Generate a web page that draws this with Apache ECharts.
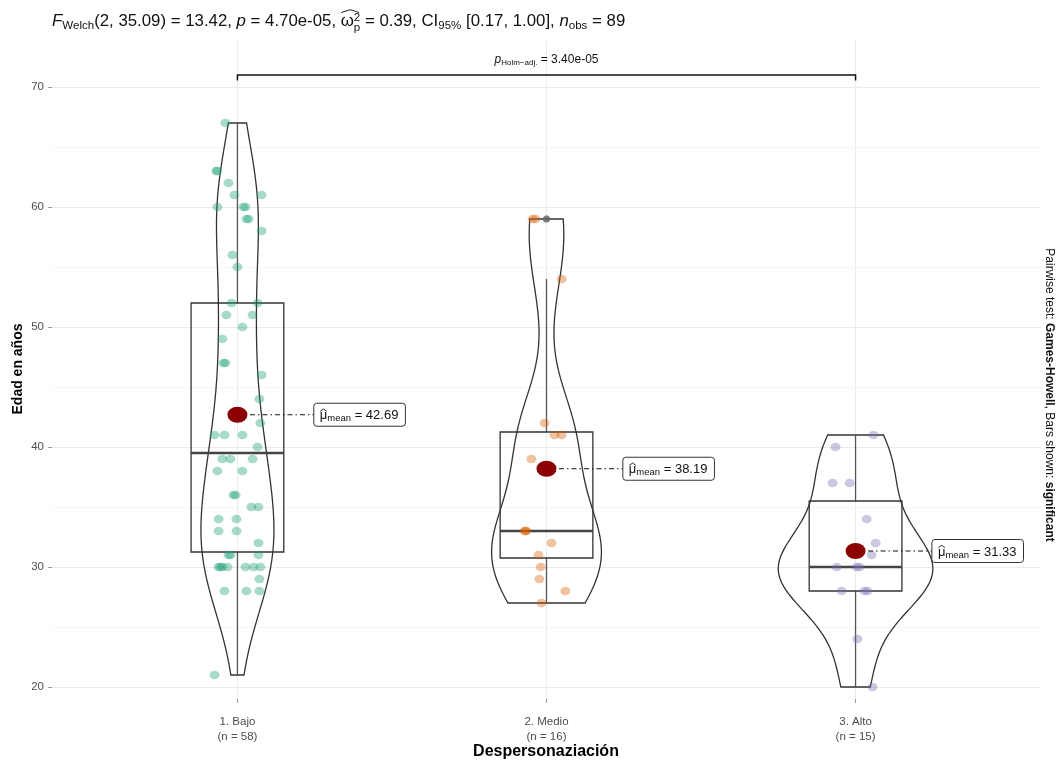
<!DOCTYPE html>
<html>
<head>
<meta charset="utf-8">
<script src="https://cdn.jsdelivr.net/npm/echarts@6.0.0/dist/echarts.min.js"></script>
</head>
<body style="margin: 0">
<div id="container" style="width: 1058px; height: 761px"></div>
<script>
// ---- datos ----
var categories = ['1. Bajo', '2. Medio', '3. Alto'];
var groupColors = ['#1B9E77', '#D95F02', '#7570B3'];

var edadBajo = [67, 63, 63, 62, 61, 61, 60, 60, 60, 59, 59, 58, 56, 55, 52, 52, 51, 51, 50, 49,
    47, 47, 46, 44, 42, 41, 41, 41, 40, 39, 39, 39, 38, 38, 36, 36, 35, 35, 34, 34,
    33, 33, 32, 31, 31, 31, 30, 30, 30, 30, 30, 30, 30, 29, 28, 28, 28, 21];
var jitterBajo = [-0.039, -0.068, -0.065, -0.029, -0.010, 0.078, -0.065, 0.019, 0.026, 0.029,
    0.036, 0.078, -0.016, 0.000, -0.019, 0.065, -0.036, 0.049, 0.016, -0.049,
    -0.045, -0.039, 0.078, 0.071, 0.074, -0.074, -0.042, 0.016, 0.065, -0.049,
    -0.023, 0.049, -0.065, 0.016, -0.013, -0.006, 0.045, 0.068, -0.061, -0.003,
    -0.061, -0.003, 0.068, -0.029, -0.023, 0.068, -0.061, -0.055, -0.049, -0.032,
    0.026, 0.052, 0.074, 0.071, -0.042, 0.029, 0.071, -0.074];

var edadMedio = [59, 59, 54, 42, 41, 41, 39, 33, 33, 33, 32, 31, 30, 29, 28, 27];
var jitterMedio = [-0.045, -0.036, 0.049, -0.006, 0.026, 0.049, -0.049, -0.071, -0.068, -0.065,
    0.016, -0.026, -0.019, -0.023, 0.061, -0.016];

var edadAlto = [41, 40, 37, 37, 34, 32, 31, 30, 30, 30, 28, 28, 28, 24, 20];
var jitterAlto = [0.058, -0.065, -0.074, -0.019, 0.036, 0.065, 0.052, -0.061, 0.003, 0.013,
    -0.045, 0.029, 0.039, 0.006, 0.055];

var yMajor = [20, 30, 40, 50, 60, 70];
var yMinor = [25, 35, 45, 55, 65];
var pHolm = '3.40e-05';
var bracketY = 71;

var groups = [edadBajo, edadMedio, edadAlto];
var jitters = [jitterBajo, jitterMedio, jitterAlto];

var FONT = '"Liberation Sans", Arial, sans-serif';
var measureCtx = document.createElement('canvas').getContext('2d');

// ---- estadisticos (como ggplot) ----
function q7(s, p) {
    var h = (s.length - 1) * p, lo = Math.floor(h);
    var hi = Math.min(lo + 1, s.length - 1);
    return s[lo] + (h - lo) * (s[hi] - s[lo]);
}
function boxStats(vals) {
    var s = vals.slice().sort(function (a, b) { return a - b; });
    var q1 = q7(s, 0.25), med = q7(s, 0.5), q3 = q7(s, 0.75), iqr = q3 - q1;
    var inside = s.filter(function (v) { return v >= q1 - 1.5 * iqr && v <= q3 + 1.5 * iqr; });
    var lo = inside[0], hi = inside[inside.length - 1];
    var mean = s.reduce(function (a, b) { return a + b; }, 0) / s.length;
    return {q1: q1, med: med, q3: q3, lo: lo, hi: hi, mean: mean, sorted: s,
        outliers: s.filter(function (v) { return v < lo || v > hi; })};
}
function kde(st) {
    var s = st.sorted, n = s.length;
    var m = st.mean, sd = Math.sqrt(s.reduce(function (a, v) { return a + (v - m) * (v - m); }, 0) / (n - 1));
    var bw = 0.9 * Math.min(sd, (st.q3 - st.q1) / 1.34) * Math.pow(n, -0.2);
    var out = [], mn = s[0], mx = s[n - 1];
    for (var i = 0; i < 512; i++) {
        var y = mn + i * (mx - mn) / 511, d = 0;
        for (var j = 0; j < n; j++) {
            var z = (y - s[j]) / bw;
            d += Math.exp(-0.5 * z * z);
        }
        out.push([y, d / (n * bw * Math.sqrt(2 * Math.PI))]);
    }
    return out;
}
var stats = groups.map(boxStats);
var dens = stats.map(kde);
var maxD = 0;
dens.forEach(function (d) { d.forEach(function (p) { maxD = Math.max(maxD, p[1]); }); });

// ---- texto con sub/superindices (y sombrero sobre una letra) ----
function textRuns(runs, base) {
    var x = 0, kids = [];
    runs.forEach(function (r) {
        var size = r.size || base.size;
        var weight = r.bold ? 'bold' : 'normal', style = r.italic ? 'italic' : 'normal';
        measureCtx.font = style + ' ' + weight + ' ' + size + 'px ' + FONT;
        var w = measureCtx.measureText(r.t).width;
        kids.push({type: 'text', x: x, y: r.dy || 0, silent: true, style: {
            text: r.t, fontSize: size, fontFamily: FONT, fontWeight: weight, fontStyle: style,
            fill: base.color || '#000', align: 'left', verticalAlign: 'middle'}});
        if (r.hat) {
            var hw = r.hatWidth || w, up = r.hatUp || 0;
            kids.push({type: 'polyline', x: x, y: -up, silent: true, shape: {points: [
                [0.5, -size * 0.34], [hw / 2, -size * 0.52], [hw - 0.5, -size * 0.34]]},
                style: {fill: 'none', stroke: base.color || '#000', lineWidth: 0.9}});
        }
        if (!r.stack) x += w;
    });
    if (base.center) kids.forEach(function (k) { k.x -= x / 2; });
    return {kids: kids, width: x};
}

var titleRuns = textRuns([
    {t: 'F', italic: true}, {t: 'Welch', size: 11, dy: 4}, {t: '(2, 35.09) = 13.42, '},
    {t: 'p', italic: true}, {t: ' = 4.70e-05, '},
    {t: 'ω', hat: true, hatWidth: 18, hatUp: 4},
    {t: '2', size: 11, dy: -4, stack: true}, {t: 'p', size: 11, dy: 6},
    {t: ' = 0.39, CI'}, {t: '95%', size: 11, dy: 4}, {t: ' [0.17, 1.00], '},
    {t: 'n', italic: true}, {t: 'obs', size: 11, dy: 4}, {t: ' = 89'}
], {size: 16, color: '#111'});

var sideRuns = textRuns([
    {t: 'Pairwise test: '}, {t: 'Games-Howell', bold: true},
    {t: ', Bars shown: '}, {t: 'significant', bold: true}
], {size: 12, color: '#111', center: true});

var yTitle = textRuns([{t: 'Edad en años', bold: true}], {size: 14, color: '#000', center: true});
var xTitle = textRuns([{t: 'Despersonaziación', bold: true}], {size: 16, color: '#000', center: true});

var dom = document.getElementById('container');
var myChart = echarts.init(dom);

var scatterSeries = groups.map(function (vals, g) {
    return {
        type: 'scatter',
        symbol: 'circle',
        symbolSize: [10, 8.5],
        itemStyle: {color: groupColors[g], opacity: 0.38},
        z: 3,
        data: vals.map(function (v, i) { return [g + 1 + jitters[g][i], v]; })
    };
});

var outlierData = [];
stats.forEach(function (st, g) {
    st.outliers.forEach(function (v) { outlierData.push([g + 1, v]); });
});

option = {
    animation: false,
    backgroundColor: '#fff',
    grid: {left: 52, right: 17, top: 39, bottom: 62},
    xAxis: {
        type: 'value', min: 0.4, max: 3.6,
        axisLine: {show: false},
        axisTick: {show: true, customValues: [1, 2, 3], length: 4, lineStyle: {color: '#999'}},
        axisLabel: {
            customValues: [1, 2, 3], margin: 15, lineHeight: 15,
            fontSize: 11.5, fontFamily: FONT, color: '#4d4d4d',
            formatter: function (v) {
                var g = Math.round(v) - 1;
                return categories[g] + '\n(n = ' + groups[g].length + ')';
            }
        },
        splitLine: {show: true, lineStyle: {color: '#ebebeb', width: 1}}
    },
    yAxis: [{
        type: 'value', min: 19, max: 74,
        axisLine: {show: false},
        axisTick: {show: true, customValues: yMajor, length: 4, lineStyle: {color: '#999'}},
        axisLabel: {customValues: yMajor, fontSize: 11.5, fontFamily: FONT, color: '#4d4d4d'},
        splitLine: {show: true, lineStyle: {color: '#ebebeb', width: 1}}
    }, {
        type: 'value', min: 19, max: 74, position: 'left',
        axisLine: {show: false},
        axisTick: {show: false, customValues: yMinor},
        axisLabel: {show: false, customValues: yMinor},
        splitLine: {show: true, lineStyle: {color: '#f5f5f5', width: 1}}
    }],
    graphic: [
        {type: 'group', x: 52, y: 22, scaleX: 1.05, children: titleRuns.kids},
        {type: 'group', x: 1049, y: 395, rotation: -Math.PI / 2, children: sideRuns.kids},
        {type: 'group', x: 18, y: 369, rotation: Math.PI / 2, children: yTitle.kids},
        {type: 'group', x: 546, y: 752, children: xTitle.kids}
    ],
    series: [
        {   // violines
            type: 'custom', z: 2, silent: true,
            data: [0, 1, 2],
            renderItem: function (params, api) {
                var g = params.dataIndex, d = dens[g], pts = [];
                for (var i = 0; i < d.length; i++) pts.push(api.coord([g + 1 + d[i][1] / maxD * 0.25, d[i][0]]));
                for (i = d.length - 1; i >= 0; i--) pts.push(api.coord([g + 1 - d[i][1] / maxD * 0.25, d[i][0]]));
                return {type: 'polygon', shape: {points: pts},
                    style: {fill: 'none', stroke: '#333', lineWidth: 1.3}};
            }
        },
        {   // cajas
            type: 'custom', z: 2, silent: true,
            data: [0, 1, 2],
            renderItem: function (params, api) {
                var g = params.dataIndex, st = stats[g], c = g + 1;
                var tl = api.coord([c - 0.15, st.q3]), br = api.coord([c + 0.15, st.q1]);
                var m1 = api.coord([c - 0.15, st.med]), m2 = api.coord([c + 0.15, st.med]);
                var wt = api.coord([c, st.hi]), wb = api.coord([c, st.lo]);
                return {type: 'group', children: [
                    {type: 'line', shape: {x1: wt[0], y1: wt[1], x2: wt[0], y2: tl[1]},
                        style: {stroke: '#555', lineWidth: 1.3}},
                    {type: 'line', shape: {x1: wb[0], y1: br[1], x2: wb[0], y2: wb[1]},
                        style: {stroke: '#555', lineWidth: 1.3}},
                    {type: 'rect', shape: {x: tl[0], y: tl[1], width: br[0] - tl[0], height: br[1] - tl[1]},
                        style: {fill: 'none', stroke: '#333', lineWidth: 1.3}},
                    {type: 'line', shape: {x1: m1[0], y1: m1[1], x2: m2[0], y2: m2[1]},
                        style: {stroke: '#444', lineWidth: 2.6}}
                ]};
            }
        }
    ].concat(scatterSeries).concat([
        {   // atipicos
            type: 'scatter', symbolSize: 7, z: 4,
            itemStyle: {color: '#666', opacity: 0.6},
            data: outlierData
        },
        {   // medias
            type: 'scatter', symbolSize: [20, 16], z: 6,
            itemStyle: {color: '#8B0000', opacity: 1},
            data: stats.map(function (st, g) { return [g + 1, st.mean]; })
        },
        {   // etiquetas de medias
            type: 'custom', z: 5, silent: true,
            data: [0, 1, 2],
            renderItem: function (params, api) {
                var g = params.dataIndex, st = stats[g];
                var p = api.coord([g + 1, st.mean]), b = api.coord([g + 1.247, st.mean]);
                var tr = textRuns([{t: 'μ', hat: true},
                    {t: 'mean', size: 9.5, dy: 3}, {t: ' = ' + st.mean.toFixed(2)}],
                    {size: 13, color: '#111'});
                var w = tr.width + 13, h = 23;
                tr.kids.forEach(function (k) { k.x += b[0] + 6; k.y += p[1] + 1; });
                return {type: 'group', children: [
                    {type: 'line', shape: {x1: p[0], y1: p[1], x2: b[0], y2: p[1]},
                        style: {stroke: '#111', lineWidth: 1.1, lineDash: [5, 3, 1.5, 3]}},
                    {type: 'rect', shape: {x: b[0], y: p[1] - h / 2, width: w, height: h, r: 3},
                        style: {fill: '#fff', stroke: '#333', lineWidth: 1}}
                ].concat(tr.kids)};
            }
        },
        {   // corchete de comparacion
            type: 'custom', z: 5, silent: true,
            data: [0],
            renderItem: function (params, api) {
                var a = api.coord([1, bracketY]), b = api.coord([3, bracketY]);
                var a2 = api.coord([1, bracketY - 0.45]), b2 = api.coord([3, bracketY - 0.45]);
                var lab = textRuns([{t: 'p', italic: true}, {t: 'Holm\u2212adj.', size: 8, dy: 3},
                    {t: ' = ' + pHolm}], {size: 12, color: '#111', center: true});
                lab.kids.forEach(function (k) { k.x += (a[0] + b[0]) / 2; k.y += a[1] - 15; });
                return {type: 'group', children: [
                    {type: 'polyline', shape: {points: [[a2[0], a2[1]], a, b, [b2[0], b2[1]]]},
                        style: {fill: 'none', stroke: '#111', lineWidth: 1.5}}
                ].concat(lab.kids)};
            }
        }
    ])
};
option.series.forEach(function (s) { s.yAxisIndex = 0; });

myChart.setOption(option);
</script>
</body>
</html>
